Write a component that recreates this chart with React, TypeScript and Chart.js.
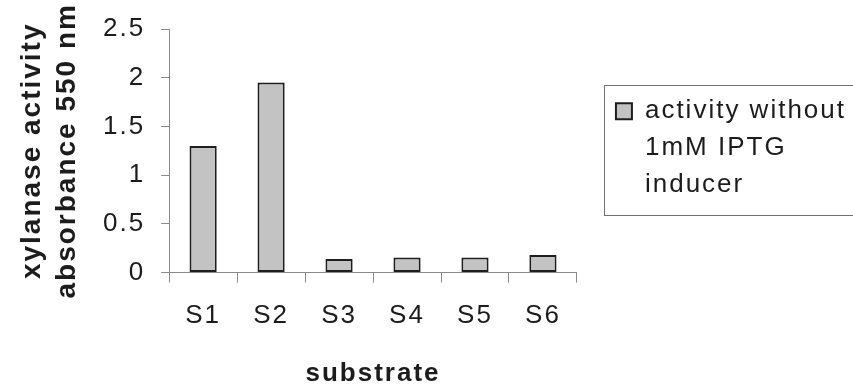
import React, { useEffect, useRef } from 'react';
import { Chart, registerables } from 'chart.js';

Chart.register(...registerables);

// Substrates and measured xylanase activity (absorbance at 550 nm)
const CATEGORIES = ['S1', 'S2', 'S3', 'S4', 'S5', 'S6'];
const ACTIVITY = [1.3, 1.95, 0.14, 0.155, 0.155, 0.18];
const Y_TICKS = [0, 0.5, 1, 1.5, 2, 2.5];
const Y_TICK_LABELS = ['0', '0.5', '1', '1.5', '2', '2.5'];
const SERIES_LABEL = 'activity without 1mM IPTG inducer';
const LEGEND_LINES = ['activity without', '1mM IPTG', 'inducer'];
const Y_TITLE = ['xylanase activity', 'absorbance 550 nm'];
const X_TITLE = 'substrate';

const FONT = "'Liberation Sans', Arial, Helvetica, sans-serif";
const INK = '#1c1c1c';
const AXIS = '#8a8a8a';

// Slightly loose letter spacing for all chart text
const letterSpacing = {
  id: 'letterSpacing',
  beforeUpdate(chart: any) {
    chart.ctx.letterSpacing = '2px';
  },
  beforeDraw(chart: any) {
    chart.ctx.letterSpacing = '2px';
  },
};

// Thin frame around the legend, open past the right edge
const legendFrame = {
  id: 'legendFrame',
  afterDraw(chart: any) {
    const hb = chart.legend?.legendHitBoxes?.[0];
    if (!hb) return;
    const ctx = chart.ctx;
    ctx.save();
    ctx.strokeStyle = '#707070';
    ctx.lineWidth = 1;
    const left = Math.round(hb.left - 12) + 0.5;
    const top = Math.round(hb.top - 13) + 0.5;
    const bottom = Math.round(hb.top + hb.height + 6) + 0.5;
    ctx.strokeRect(left, top, chart.width + 20 - left, bottom - top);
    ctx.restore();
  },
};

export default function App() {
  const ref = useRef<HTMLCanvasElement>(null);

  useEffect(() => {
    const canvas = ref.current;
    if (!canvas) return;
    const chart = new Chart(canvas, {
      type: 'bar',
      data: {
        labels: CATEGORIES,
        datasets: [
          {
            label: SERIES_LABEL,
            data: ACTIVITY,
            backgroundColor: '#c3c3c3',
            borderColor: '#1e1e1e',
            borderWidth: 2,
            borderSkipped: false,
            barPercentage: 0.4,
            categoryPercentage: 1,
          },
        ],
      },
      options: {
        responsive: false,
        animation: false,
        events: [],
        layout: { padding: { top: 29, left: 0, right: -3, bottom: 0 } },
        plugins: {
          tooltip: { enabled: false },
          legend: {
            display: true,
            position: 'right',
            align: 'center',
            fullSize: false,
            maxWidth: 400,
            title: { display: true, text: '', font: { size: 6, lineHeight: 1 }, padding: 0 },
            labels: {
              boxWidth: 16,
              boxHeight: 16,
              padding: 39,
              color: INK,
              font: { family: FONT, size: 26, lineHeight: 37 / 26 },
              generateLabels: (c: any) =>
                Chart.defaults.plugins.legend.labels
                  .generateLabels(c)
                  .map((item: any) => ({ ...item, text: LEGEND_LINES })),
            },
          },
        },
        scales: {
          x: {
            grid: {
              offset: true,
              drawOnChartArea: false,
              drawTicks: true,
              tickLength: 10,
              tickColor: AXIS,
            },
            border: { display: true, color: AXIS, width: 1 },
            ticks: {
              color: INK,
              font: { family: FONT, size: 26 },
              padding: 18,
              maxRotation: 0,
              autoSkip: false,
            },
            title: {
              display: true,
              text: X_TITLE,
              color: INK,
              font: { family: FONT, size: 26, weight: 'bold' },
              padding: { top: 8, bottom: 0 },
            },
          },
          y: {
            min: 0,
            max: 2.5,
            afterBuildTicks: (scale: any) => {
              scale.ticks = Y_TICKS.map((v) => ({ value: v }));
            },
            // let the layout padding alone decide where the plot area starts
            afterFit: (scale: any) => {
              scale.paddingTop = 0;
            },
            grid: {
              drawOnChartArea: false,
              drawTicks: true,
              tickLength: 8,
              tickColor: AXIS,
            },
            border: { display: true, color: AXIS, width: 1 },
            ticks: {
              color: INK,
              font: { family: FONT, size: 26 },
              padding: 16,
              callback: (v: any) => {
                const i = Y_TICKS.indexOf(Number(v));
                return i >= 0 ? Y_TICK_LABELS[i] : '';
              },
            },
            title: {
              display: true,
              text: Y_TITLE,
              color: INK,
              font: { family: FONT, size: 28, weight: 'bold', lineHeight: 1.25 },
              padding: { top: 15, bottom: 2 },
            },
          },
        },
      },
      plugins: [letterSpacing, legendFrame],
    } as any);
    return () => chart.destroy();
  }, []);

  return (
    <div
      style={{
        position: 'absolute',
        left: 0,
        top: 0,
        width: 853,
        height: 389,
        background: '#ffffff',
      }}
    >
      <canvas
        ref={ref}
        width={853}
        height={389}
        style={{ display: 'block', width: 853, height: 389 }}
      />
    </div>
  );
}
